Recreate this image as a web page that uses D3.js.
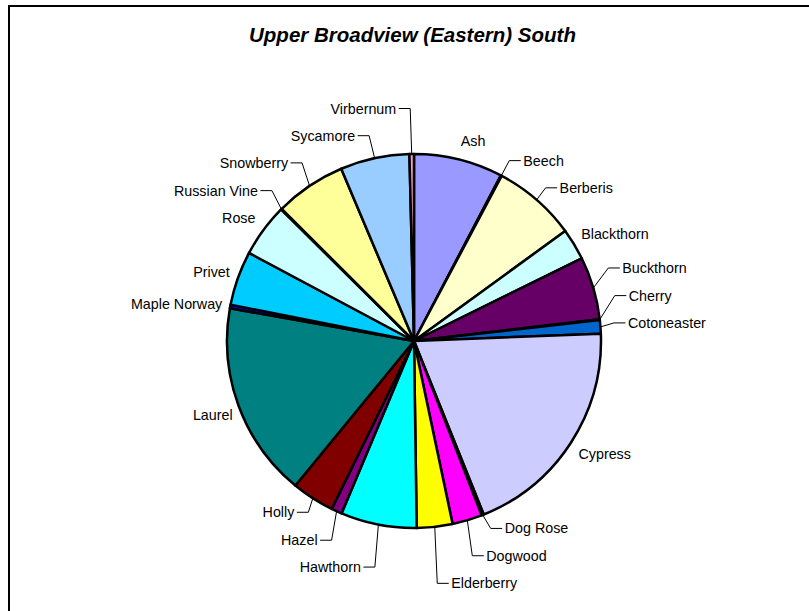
<!DOCTYPE html>
<html>
<head>
<meta charset="utf-8">
<script src="https://cdn.jsdelivr.net/npm/d3@7"></script>
<style>
  body { margin: 0; background: #fff; }
  svg text { font-family: "Liberation Sans", Arial, sans-serif; fill: #000; }
</style>
</head>
<body>
<figure id="pie" style="margin:0"></figure>
<script>
// slice names, in the order they go round the pie (clockwise from 12 o'clock)
var species = ["Ash", "Beech", "Berberis", "Blackthorn", "Buckthorn", "Cherry", "Cotoneaster",
  "Cypress", "Dog Rose", "Dogwood", "Elderberry", "Hawthorn", "Hazel", "Holly", "Laurel",
  "Maple Norway", "Privet", "Rose", "Russian Vine", "Snowberry", "Sycamore", "Virbernum"];

// share of each species (%)
var share = [7.69, 0.08, 7.22, 2.72, 5.42, 0.08, 1.17,
  19.53, 0.19, 2.58, 3.08, 6.56, 0.92, 3.69, 16.86,
  0.31, 4.69, 4.61, 0.08, 6.14, 5.97, 0.39];

// old Excel chart palette
var sliceColours = ["#9999FF", "#993366", "#FFFFCC", "#CCFFFF", "#660066", "#FF8080", "#0066CC",
  "#CCCCFF", "#000080", "#FF00FF", "#FFFF00", "#00FFFF", "#800080", "#800000", "#008080",
  "#0000FF", "#00CCFF", "#CCFFFF", "#CCFFCC", "#FFFF99", "#99CCFF", "#FF99CC"];

var title = "Upper Broadview (Eastern) South";

// labels pulled away from the pie: elbow of the leader line, relative to the slice edge
var leaderElbow = {
  "Beech": [8, -15], "Berberis": [9, -12], "Buckthorn": [15, -20], "Cherry": [15, -24],
  "Cotoneaster": [13.5, -4], "Dog Rose": [8, 13.5], "Dogwood": [5, 35.5], "Elderberry": [2.5, 56.5],
  "Hawthorn": [-3.5, 42.5], "Hazel": [-5, 29], "Holly": [-4.5, 14], "Russian Vine": [-9.5, -18.5],
  "Snowberry": [-7.5, -23], "Sycamore": [-5.5, -22.5], "Virbernum": [-1.5, -45.5]
};
// small nudges for labels sitting next to their slice
var labelNudge = { "Ash": [8, 1], "Laurel": [6, 2], "Maple Norway": [5, 1], "Privet": [4, 1] };

var width = 809, height = 611;
var cx = 414, cy = 341, radius = 187;

var svg = d3.select("figure#pie")
  .append("svg")
    .attr("width", width)
    .attr("height", height);

// chart frame (runs off the right and bottom of the picture)
svg.append("rect")
  .attr("x", 9).attr("y", 6)
  .attr("width", 830).attr("height", 640)
  .attr("fill", "#fff")
  .attr("stroke", "#000")
  .attr("stroke-width", 2);

svg.append("text")
  .attr("x", 412.5)
  .attr("y", 41.5)
  .attr("text-anchor", "middle")
  .style("font-size", "20.5px")
  .style("font-weight", "bold")
  .style("font-style", "italic")
  .text(title);

var data = species.map(function(d, i) { return {name: d, value: share[i], colour: sliceColours[i]}; });

var pie = d3.pie()
  .sort(null)
  .value(function(d) { return d.value; });

var arc = d3.arc()
  .innerRadius(0)
  .outerRadius(radius);

var g = svg.append("g")
  .attr("transform", "translate(" + cx + "," + cy + ")");

var slices = pie(data);

g.selectAll("path.slice")
  .data(slices)
  .enter()
  .append("path")
    .attr("class", "slice")
    .attr("d", arc)
    .attr("fill", function(d) { return d.data.colour; })
    .attr("stroke", "#000")
    .attr("stroke-width", 2.5)
    .attr("stroke-linejoin", "round");

// point on the rim at the middle of a slice
function rimPoint(d, r) {
  var a = (d.startAngle + d.endAngle) / 2;
  return [r * Math.sin(a), -r * Math.cos(a)];
}

var fontSize = 14.3;
var labels = g.append("g");

slices.forEach(function(d) {
  var name = d.data.name;
  var edge = rimPoint(d, radius);
  if (leaderElbow[name]) {
    var off = leaderElbow[name];
    var elbow = [edge[0] + off[0], edge[1] + off[1]];
    var side = elbow[0] >= 0 ? 1 : -1;
    labels.append("polyline")
      .attr("points", [edge, elbow, [elbow[0] + side * 11.5, elbow[1]]].map(function(p) { return p.join(","); }).join(" "))
      .attr("fill", "none")
      .attr("stroke", "#000")
      .attr("stroke-width", 1);
    labels.append("text")
      .attr("x", elbow[0] + side * 14)
      .attr("y", elbow[1])
      .attr("dy", "0.35em")
      .attr("text-anchor", side > 0 ? "start" : "end")
      .style("font-size", fontSize + "px")
      .text(name);
  } else {
    // box just outside the rim along the middle of the slice
    var a = (d.startAngle + d.endAngle) / 2;
    var p = rimPoint(d, radius + 14);
    var t = labels.append("text")
      .attr("text-anchor", "middle")
      .attr("dy", "0.35em")
      .style("font-size", fontSize + "px")
      .text(name);
    var w = t.node().getComputedTextLength();
    var nudge = labelNudge[name] || [0, 0];
    t.attr("x", p[0] + (w / 2) * Math.sin(a) + nudge[0])
     .attr("y", p[1] - 6 * Math.cos(a) + nudge[1]);
  }
});
</script>
</body>
</html>
